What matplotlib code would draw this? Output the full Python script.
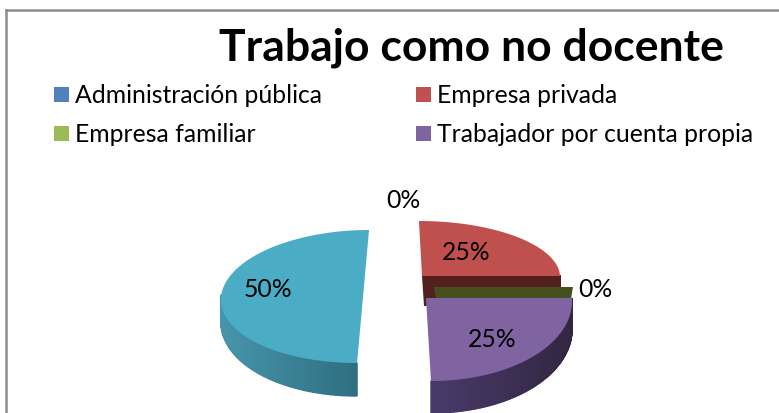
import numpy as np
import matplotlib
matplotlib.use("Agg")
import matplotlib.pyplot as plt
from matplotlib.patches import Rectangle

# chart data
categories = ["Administración pública", "Empresa privada", "Empresa familiar",
              "Trabajador por cuenta propia", "Otros"]
shares = [0, 25, 0, 25, 50]
pct_labels = ["0%", "25%", "0%", "25%", "50%"]
title = "Trabajo como no docente"

colors = ["#4F81BD", "#C0504D", "#9BBB59", "#8064A2", "#4BACC6"]
wall_left = ["#3d6591", "#54201d", "#46501f", "#4a3a6c", "#4795ab"]
wall_right = ["#2e4d70", "#54201d", "#46501f", "#322640", "#2d6b7d"]

# exploded slice geometry, in pixels: centre x, centre y, rx, ry up, ry down, shear, side depth, front depth
geometry = [
    (403, 275, 140, 55, 55, 0.0, 24, 30),
    (422, 277, 138, 55, 55, 0.055, 24, 30),
    (434, 288, 139, 55, 55, 0.0, 12, 12),
    (426, 299, 146, 83, 83, 0.06, 28, 32),
    (363, 298, 142, 67, 66, -0.09, 22, 33),
]
label_pos = [(403, 201), (466, 253), (595, 290), (492, 340), (268, 290)]


def rim(g, t):
    cx, cy, rx, ry_up, ry_down, shear, _, _ = g
    ry = np.where(np.sin(t) >= 0, ry_up, ry_down)
    y = cy - ry * np.sin(t)
    x = cx + rx * np.cos(t) + shear * (y - cy)
    return x, y


def depth(g, t):
    return g[6] + (g[7] - g[6]) * np.abs(np.sin(t))


fig = plt.figure(figsize=(7.79, 4.14), dpi=100)
ax = fig.add_axes([0, 0, 1, 1])
ax.set_xlim(0, 779)
ax.set_ylim(414, 0)
ax.axis("off")

# chart frame
ax.plot([6, 6], [414, 11], color="#8c8c8c", lw=1.8)
ax.plot([6, 779], [11, 11], color="#8c8c8c", lw=1.8)

ax.text(471, 48, title, fontsize=32, fontweight="bold", family="Lato",
        ha="center", va="center", color="black")

legend_x = [54, 416]
legend_y = [96, 135]
for i, name in enumerate(categories[:4]):
    x0 = legend_x[i % 2]
    y0 = legend_y[i // 2]
    ax.add_patch(Rectangle((x0, y0 - 8), 15, 15, color=colors[i], lw=0))
    ax.text(x0 + 21, y0, name, fontsize=17.8, family="Lato", ha="left", va="center", color="black")

# slices, starting at 12 o'clock going clockwise
start = np.pi / 2
for i in [1, 2, 3, 4]:
    g = geometry[i]
    end = start - shares[i] / sum(shares) * 2 * np.pi
    t = np.linspace(start, end, 120) if shares[i] > 0 else np.array([start])
    x, y = rim(g, t)
    cx, cy = g[0], g[1]

    # wall on the cut edge facing the viewer
    if -0.01 <= np.cos(end) and abs(np.sin(end)) < 0.01:
        ex, ey = rim(g, np.array([end]))
        d = depth(g, np.array([end]))[0]
        ax.fill([cx, ex[0], ex[0] - 2, cx + 2], [cy, ey[0], ey[0] + d, cy + g[7]],
                color=wall_left[i], lw=0)

    # outer wall, split in small strips for the shading
    if shares[i] > 0:
        d = depth(g, t)
        for k in range(len(t) - 1):
            if np.sin(t[k]) > 0.02:
                continue
            f = (x[k] - x.min()) / (x.max() - x.min())
            c0 = np.array(matplotlib.colors.to_rgb(wall_left[i]))
            c1 = np.array(matplotlib.colors.to_rgb(wall_right[i]))
            ax.fill([x[k], x[k + 1], x[k + 1], x[k]],
                    [y[k], y[k + 1], y[k + 1] + d[k + 1], y[k] + d[k]],
                    color=c0 + (c1 - c0) * f, lw=1.0)
        ax.fill(np.r_[cx, x], np.r_[cy, y], color=colors[i], lw=0)
    start = end

for text, pos in zip(pct_labels, label_pos):
    ax.text(pos[0], pos[1], text, fontsize=17.8, family="Lato", ha="center", va="center", color="black")

fig.savefig("out.png", dpi=100, facecolor="white")
